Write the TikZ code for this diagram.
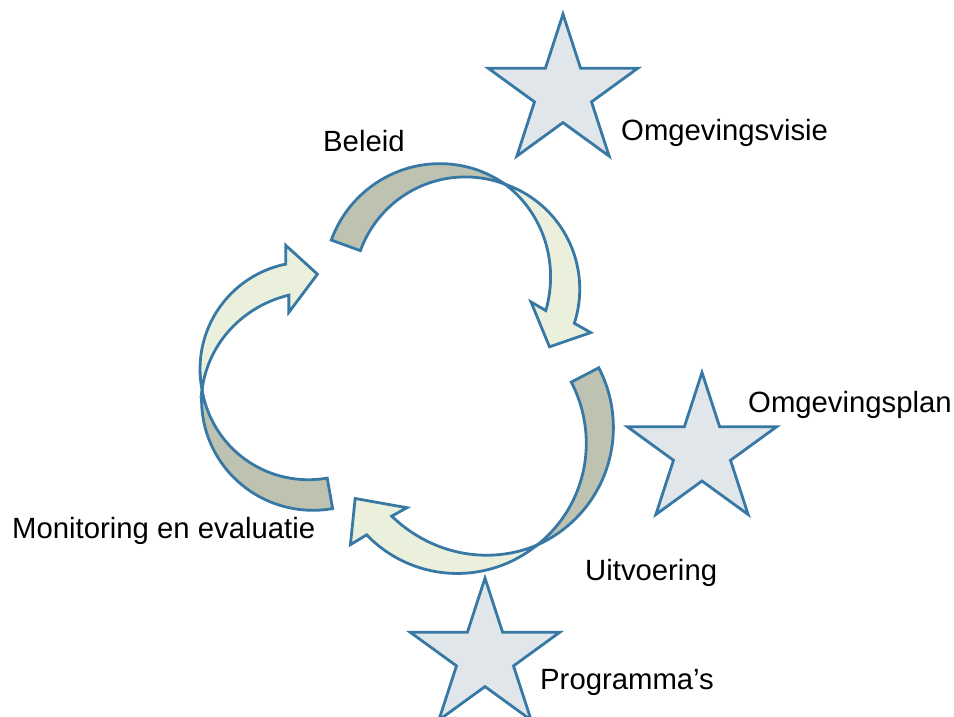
\documentclass[tikz,border=0pt]{standalone}
\usepackage{fontspec}
\setmainfont{Liberation Sans}
\usetikzlibrary{shapes.geometric}

\definecolor{rimblue}{RGB}{55,120,165}
\definecolor{backgray}{RGB}{190,195,177}
\definecolor{frontgreen}{RGB}{234,240,220}
\definecolor{starfill}{RGB}{224,230,234}

\newcommand{\halfw}{15.5}

\begin{document}
\begin{tikzpicture} [
            x=1pt, y=-1pt,
            rim/.style = {draw=rimblue,line width=2.8pt},
            backside/.style = {rim,fill=backgray},
            frontside/.style = {rim,fill=frontgreen},
            instrument/.style = {rim,fill=starfill,shape=star,star points=5,
                star point ratio=2.618,minimum size=157pt,inner sep=0pt},
            caption/.style = {anchor=base west,inner sep=0pt,
                font=\fontsize{29.3}{34}\selectfont},
        ]
        \useasboundingbox (0,0) rectangle (954,717);
        % The three twisted cycle arrows
        \foreach \cx/\cy/\rad/\tail/\twist/\tip in {
                % top: beleid
                {452/284/113/160/62/-16.8},
                % left: monitoring
                {311/386/109/280/182/102.7},
                % bottom: uitvoering
                {470.6/434.5/129/27.5/-59/-135}}
        {
            \begin{scope}[shift={(\cx,\cy)},yscale=-1]
                % back of the ribbon, tail to twist
                \filldraw[backside]
                    plot[domain=\tail:\twist,samples=40]
                        (\x:{\rad+\halfw*sin(90*(\x-(\twist))/(\tail-(\twist)))})
                    -- plot[domain=\twist:\tail,samples=40]
                        (\x:{\rad-\halfw*sin(90*(\x-(\twist))/(\tail-(\twist)))})
                    -- cycle;
                % front of the ribbon, twist to head
                \filldraw[frontside]
                    plot[domain=\twist:\tip+1,samples=40]
                        (\x:{\rad-\halfw*sin(90*(\twist-\x)/(\twist-(\tip)))})
                    -- (\tip+4:\rad-32) -- (\tip-16:\rad+3) -- (\tip-2.5:\rad+34)
                    -- plot[domain=\tip-1:\twist,samples=40]
                        (\x:{\rad+\halfw*sin(90*(\twist-\x)/(\twist-(\tip)))})
                    -- cycle;
            \end{scope}
        }
        % Stars for the instruments
        \foreach \pos/\name in {
                {(563,92.6)/visiestar},
                {(702,451)/planstar},
                {(485,656.6)/programstar}}
            \node[instrument] (\name) at \pos {};
        % Labels
        \foreach \pos/\name/\text in {
                {(323,151)/beleid/Beleid},
                {(621,140)/visie/Omgevingsvisie},
                {(748,412)/plan/Omgevingsplan},
                {(585,580)/uitvoering/Uitvoering},
                {(540,689)/programmas/Programma’s},
                {(12,538)/monitoring/Monitoring en evaluatie}}
            \node[caption] (\name) at \pos {\text};
    \end{tikzpicture}
\end{document}
